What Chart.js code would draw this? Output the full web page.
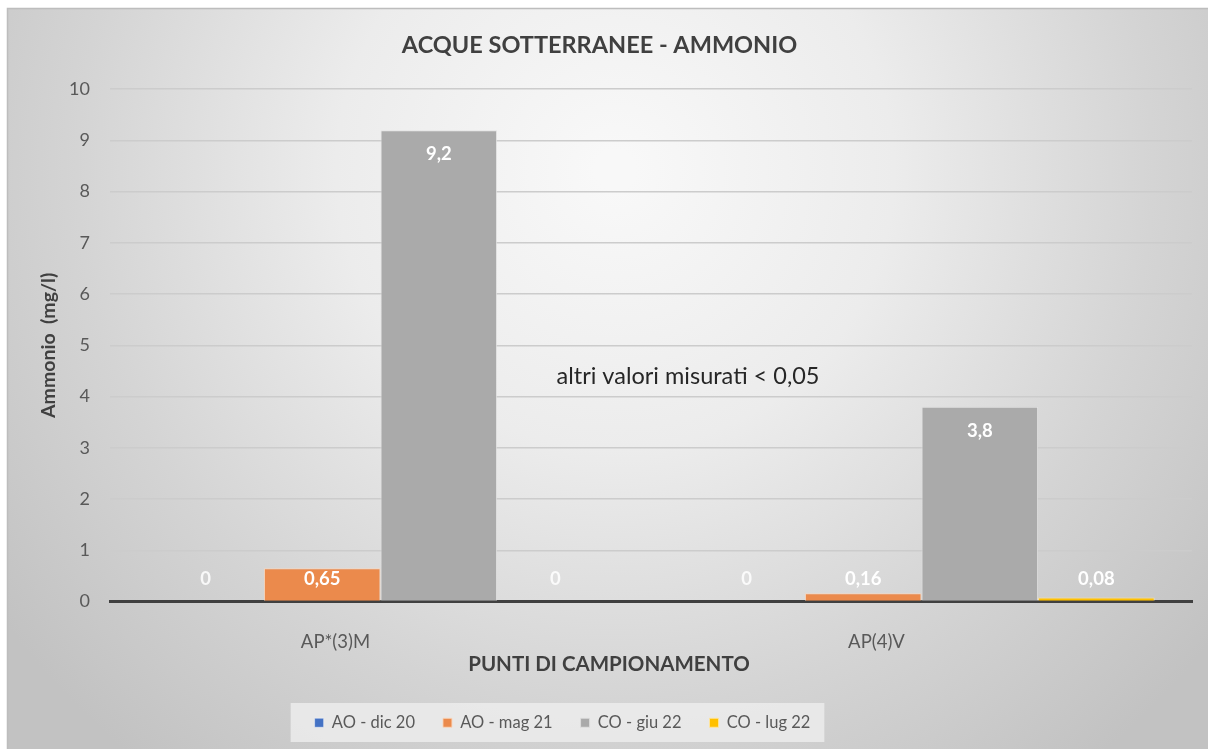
<!DOCTYPE html>
<html>
<head>
<meta charset="utf-8">
<script src="https://cdn.jsdelivr.net/npm/chart.js@4.4.1/dist/chart.umd.min.js"></script>
<style>
  html, body { margin: 0; padding: 0; background: #ffffff; }
  #wrap { width: 1208px; height: 749px; position: relative; }
</style>
</head>
<body>
<div id="wrap"><canvas id="c" width="1208" height="749"></canvas></div>
<script>
const categories = ['AP*(3)M', 'AP(4)V'];
const seriesNames = ['AO - dic 20', 'AO - mag 21', 'CO - giu 22', 'CO - lug 22'];
const aoDic20 = [0, 0];
const aoMag21 = [0.65, 0.16];
const coGiu22 = [9.2, 3.8];
const coLug22 = [0, 0.08];
const yTicks = [0, 1, 2, 3, 4, 5, 6, 7, 8, 9, 10];
const titleText = 'ACQUE SOTTERRANEE - AMMONIO';
const yTitleText = 'Ammonio  (mg/l)';
const xTitleText = 'PUNTI DI CAMPIONAMENTO';
const noteText = 'altri valori misurati < 0,05';

const FONT = 'Lato, Carlito, Calibri, "Open Sans", sans-serif';
const colors = ['#4472C4', '#EB8A4C', '#AAAAAA', '#FFC000'];
const borderColors = ['rgba(255,255,255,0.45)', 'rgba(250,215,190,0.9)', 'rgba(225,225,225,0.8)', 'rgba(255,230,160,0.9)'];
const seriesValues = [aoDic20, aoMag21, coGiu22, coLug22];

const bgPlugin = {
  id: 'bg',
  beforeDraw(chart) {
    const ctx = chart.ctx;
    ctx.save();
    ctx.fillStyle = '#ffffff';
    ctx.fillRect(0, 0, chart.width, chart.height);
    const g = ctx.createRadialGradient(615, 170, 20, 615, 170, 760);
    g.addColorStop(0, '#f8f8f8');
    g.addColorStop(0.35, '#ececec');
    g.addColorStop(0.7, '#d4d4d4');
    g.addColorStop(1, '#c2c2c2');
    ctx.fillStyle = g;
    ctx.fillRect(7, 8, chart.width - 7, chart.height - 8);
    ctx.strokeStyle = '#bdbdbd';
    ctx.lineWidth = 1.5;
    ctx.beginPath();
    ctx.moveTo(7.5, chart.height);
    ctx.lineTo(7.5, 8.5);
    ctx.lineTo(chart.width, 8.5);
    ctx.stroke();
    const lg = chart.legend;
    if (lg && lg.legendHitBoxes && lg.legendHitBoxes.length) {
      const hb = lg.legendHitBoxes;
      const l = Math.min(...hb.map(h => h.left)) - 24;
      const r = Math.max(...hb.map(h => h.left + h.width)) + 14;
      ctx.fillStyle = 'rgba(236,236,236,0.85)';
      ctx.fillRect(l, 703, r - l, 39);
    }
    ctx.restore();
  },
  afterLayout(chart) {
    const lg = chart.legend;
    if (lg) { lg.left -= 37; lg.right -= 37; }
  }
};

const textPlugin = {
  id: 'texts',
  afterDatasetsDraw(chart) {
    const ctx = chart.ctx;
    const base = chart.scales.y.getPixelForValue(0);
    ctx.save();
    ctx.textAlign = 'center';
    ctx.textBaseline = 'middle';
    ctx.font = 'bold 18.5px ' + FONT;
    chart.data.datasets.forEach((ds, di) => {
      const meta = chart.getDatasetMeta(di);
      meta.data.forEach((el, i) => {
        const v = ds.data[i];
        const y = Math.min(el.y + 24, base - 22);
        ctx.fillStyle = v === 0 ? 'rgba(255,255,255,0.85)' : '#ffffff';
        ctx.fillText(String(v).replace('.', ','), el.x, y);
      });
    });
    ctx.font = '23.5px ' + FONT;
    ctx.fillStyle = '#262626';
    ctx.fillText(noteText, 688, 376);
    ctx.font = 'bold 20.5px ' + FONT;
    ctx.fillStyle = '#404040';
    ctx.fillText(xTitleText, 609, 664);
    ctx.restore();
  }
};

new Chart(document.getElementById('c'), {
  type: 'bar',
  data: {
    labels: categories,
    datasets: seriesNames.map((n, i) => ({
      label: n,
      data: seriesValues[i],
      backgroundColor: colors[i],
      borderColor: borderColors[i],
      borderWidth: 1,
      barPercentage: 1.0,
      categoryPercentage: 0.862
    }))
  },
  options: {
    responsive: false,
    animation: false,
    devicePixelRatio: 1,
    layout: { padding: { left: 7, right: 16, top: 8, bottom: 8 } },
    plugins: {
      tooltip: { enabled: false },
      title: {
        display: true,
        text: titleText,
        color: '#404040',
        font: { family: FONT, size: 23.5, weight: 'bold' },
        padding: { top: 23, bottom: 30 }
      },
      legend: {
        display: true,
        position: 'bottom',
        labels: {
          color: '#595959',
          font: { family: FONT, size: 16.5 },
          boxWidth: 9,
          boxHeight: 9,
          padding: 28
        }
      }
    },
    scales: {
      x: {
        grid: { display: false },
        border: { display: true, color: '#404040', width: 3 },
        ticks: {
          color: '#595959',
          font: { family: FONT, size: 18.5 },
          padding: 21,
          labelOffset: -45
        },
        afterFit(scale) { scale.height = 85; }
      },
      y: {
        min: 0,
        max: 10,
        afterBuildTicks(scale) { scale.ticks = yTicks.map(v => ({ value: v })); },
        grid: { color: '#cccccc', lineWidth: 1.5, drawTicks: false },
        border: { display: false },
        ticks: {
          color: '#595959',
          font: { family: FONT, size: 18 },
          padding: 20
        },
        title: {
          display: true,
          text: yTitleText,
          color: '#404040',
          font: { family: FONT, size: 19.5, weight: 'bold' },
          padding: { top: 30, bottom: 0 }
        },
        afterFit(scale) { scale.width = 103; }
      }
    }
  },
  plugins: [bgPlugin, textPlugin]
});
</script>
</body>
</html>
